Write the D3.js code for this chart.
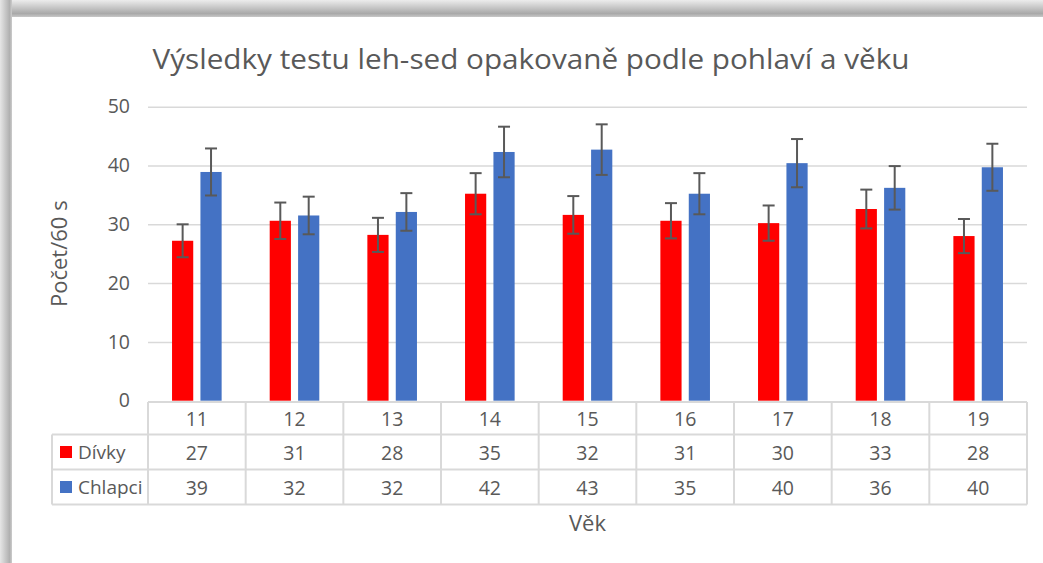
<!DOCTYPE html>
<html>
<head>
<meta charset="utf-8">
<script src="https://cdn.jsdelivr.net/npm/d3@7"></script>
<style>
  body { margin: 0; background: #fff; }
  text { font-family: "Open Sans", sans-serif; fill: #595959; }
</style>
</head>
<body>
<div id="chart"></div>
<script>
// data
let ages = ["11", "12", "13", "14", "15", "16", "17", "18", "19"];
let series = ["Dívky", "Chlapci"];
let girls = [27.2, 30.6, 28.2, 35.2, 31.6, 30.6, 30.2, 32.6, 28.0];
let boys = [38.9, 31.5, 32.1, 42.3, 42.7, 35.2, 40.4, 36.2, 39.7];
let girlsErr = [2.8, 3.1, 2.9, 3.5, 3.2, 3.0, 3.0, 3.3, 2.9];
let boysErr = [4.0, 3.2, 3.2, 4.3, 4.3, 3.5, 4.1, 3.7, 4.0];
let yTicks = [0, 10, 20, 30, 40, 50];

let colors = {"Dívky": "#ff0000", "Chlapci": "#4472c4"};

let width = 1043, height = 563;
let labelSize = 19.5;

let svg = d3.select("#chart").append("svg")
    .attr("width", width)
    .attr("height", height);

// shadow frame
let defs = svg.append("defs");
let gTop = defs.append("linearGradient").attr("id", "shTop")
    .attr("x1", 0).attr("y1", 0).attr("x2", 0).attr("y2", 1);
gTop.append("stop").attr("offset", "0%").attr("stop-color", "#ececec");
gTop.append("stop").attr("offset", "80%").attr("stop-color", "#a9a9a9");
gTop.append("stop").attr("offset", "100%").attr("stop-color", "#c8c8c8");
let gLeft = defs.append("linearGradient").attr("id", "shLeft")
    .attr("x1", 0).attr("y1", 0).attr("x2", 1).attr("y2", 0);
gLeft.append("stop").attr("offset", "0%").attr("stop-color", "#e6e6e6");
gLeft.append("stop").attr("offset", "80%").attr("stop-color", "#b0b0b0");
gLeft.append("stop").attr("offset", "100%").attr("stop-color", "#cccccc");

svg.append("rect").attr("x", 0).attr("y", 0).attr("width", width).attr("height", 17)
    .attr("fill", "url(#shTop)");
svg.append("rect").attr("x", 0).attr("y", 0).attr("width", 12).attr("height", height)
    .attr("fill", "url(#shLeft)");
svg.append("rect").attr("x", 12).attr("y", 17).attr("width", width - 12).attr("height", height - 17)
    .attr("fill", "#fff");

// scales
let plotLeft = 148, plotRight = 1027, plotTop = 106.7, plotBottom = 400.7;

let x0 = d3.scaleBand()
    .domain(ages)
    .range([plotLeft, plotRight]);

let barW = 21.2, gap = 7.2;
let groupW = barW * 2 + gap;
let x1 = d3.scaleBand()
    .domain(series)
    .range([x0.bandwidth() / 2 - groupW / 2, x0.bandwidth() / 2 + groupW / 2])
    .paddingInner(gap / (barW + gap));

let y = d3.scaleLinear()
    .domain([0, 50])
    .range([plotBottom, plotTop]);

// gridlines + y labels
let yAxis = d3.axisLeft(y)
    .tickValues(yTicks)
    .tickSize(-(plotRight - plotLeft))
    .tickPadding(18);

let yAxisGroup = svg.append("g")
    .attr("class", "axis y-axis")
    .attr("transform", "translate(" + plotLeft + ",0)")
    .call(yAxis);

yAxisGroup.select(".domain").remove();
yAxisGroup.selectAll(".tick line")
    .attr("stroke", "#d9d9d9")
    .attr("stroke-width", 1.5);
yAxisGroup.selectAll(".tick text")
    .attr("font-size", labelSize)
    .attr("fill", "#595959")
    .attr("font-family", "Open Sans, sans-serif");
yAxisGroup.selectAll(".tick").filter(d => d === 0).select("line").remove();

// bars
let rows = ages.map((a, i) => ({
    age: a,
    vals: [
        {s: "Dívky", v: girls[i], e: girlsErr[i]},
        {s: "Chlapci", v: boys[i], e: boysErr[i]}
    ]
}));

let groups = svg.selectAll(".group")
    .data(rows)
    .enter().append("g")
    .attr("class", "group")
    .attr("transform", d => "translate(" + x0(d.age) + ",0)");

groups.selectAll("rect")
    .data(d => d.vals)
    .enter().append("rect")
    .attr("x", d => x1(d.s))
    .attr("width", x1.bandwidth())
    .attr("y", d => y(d.v))
    .attr("height", d => y(0) - y(d.v))
    .attr("fill", d => colors[d.s]);

// error bars
let capW = 12;
let errs = groups.selectAll(".err")
    .data(d => d.vals)
    .enter().append("g")
    .attr("class", "err")
    .attr("stroke", "#595959")
    .attr("stroke-width", 2);

errs.append("line")
    .attr("x1", d => x1(d.s) + x1.bandwidth() / 2)
    .attr("x2", d => x1(d.s) + x1.bandwidth() / 2)
    .attr("y1", d => y(d.v + d.e))
    .attr("y2", d => y(d.v - d.e));
errs.append("line")
    .attr("x1", d => x1(d.s) + x1.bandwidth() / 2 - capW / 2)
    .attr("x2", d => x1(d.s) + x1.bandwidth() / 2 + capW / 2)
    .attr("y1", d => y(d.v + d.e))
    .attr("y2", d => y(d.v + d.e));
errs.append("line")
    .attr("x1", d => x1(d.s) + x1.bandwidth() / 2 - capW / 2)
    .attr("x2", d => x1(d.s) + x1.bandwidth() / 2 + capW / 2)
    .attr("y1", d => y(d.v - d.e))
    .attr("y2", d => y(d.v - d.e));

// data table
let tableLeft = 52;
let rowY = [402, 434.5, 469.5, 504.5];
let lineColor = "#d9d9d9";
let table = svg.append("g").attr("class", "table")
    .attr("stroke", lineColor).attr("stroke-width", 2);

table.append("line").attr("x1", plotLeft).attr("x2", plotRight).attr("y1", rowY[0]).attr("y2", rowY[0]);
[1, 2, 3].forEach(r => {
    table.append("line").attr("x1", tableLeft).attr("x2", plotRight)
        .attr("y1", rowY[r]).attr("y2", rowY[r]);
});
table.append("line").attr("x1", tableLeft).attr("x2", tableLeft).attr("y1", rowY[1]).attr("y2", rowY[3]);
ages.forEach(a => {
    table.append("line").attr("x1", x0(a)).attr("x2", x0(a)).attr("y1", rowY[0]).attr("y2", rowY[3]);
});
table.append("line").attr("x1", plotRight).attr("x2", plotRight).attr("y1", rowY[0]).attr("y2", rowY[3]);

let fmt = v => String(Math.round(v));
let cellText = (txt, cx, cy) => svg.append("text")
    .attr("x", cx).attr("y", cy)
    .attr("text-anchor", "middle")
    .attr("dominant-baseline", "central")
    .attr("font-size", labelSize)
    .text(txt);

ages.forEach((a, i) => {
    let cx = x0(a) + x0.bandwidth() / 2;
    cellText(a, cx, (rowY[0] + rowY[1]) / 2);
    cellText(fmt(girls[i]), cx, (rowY[1] + rowY[2]) / 2);
    cellText(fmt(boys[i]), cx, (rowY[2] + rowY[3]) / 2);
});

// legend keys in table
series.forEach((s, i) => {
    let cy = (rowY[i + 1] + rowY[i + 2]) / 2;
    svg.append("rect")
        .attr("x", 60).attr("y", cy - 6)
        .attr("width", 12).attr("height", 12)
        .attr("fill", colors[s]);
    svg.append("text")
        .attr("x", 78).attr("y", cy)
        .attr("dominant-baseline", "central")
        .attr("font-size", 19)
        .text(s);
});

// title
svg.append("text")
    .attr("x", 531).attr("y", 69)
    .attr("text-anchor", "middle")
    .attr("font-size", 28)
    .attr("textLength", 757)
    .attr("lengthAdjust", "spacingAndGlyphs")
    .text("Výsledky testu leh-sed opakovaně podle pohlaví a věku");

// axis titles
svg.append("text")
    .attr("transform", "translate(67," + ((plotTop + plotBottom) / 2) + ") rotate(-90)")
    .attr("text-anchor", "middle")
    .attr("font-size", 22)
    .text("Počet/60 s");

svg.append("text")
    .attr("x", (plotLeft + plotRight) / 2).attr("y", 531)
    .attr("text-anchor", "middle")
    .attr("font-size", 22)
    .text("Věk");
</script>
</body>
</html>
